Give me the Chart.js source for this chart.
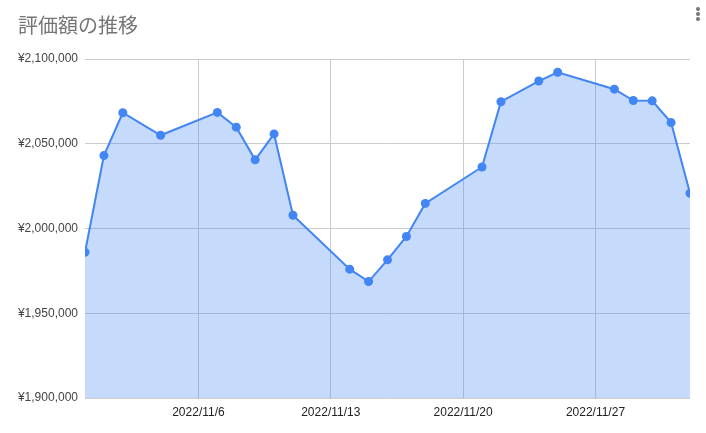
<!DOCTYPE html>
<html>
<head>
<meta charset="utf-8">
<script src="https://cdn.jsdelivr.net/npm/chart.js@4"></script>
<style>
  html, body { margin: 0; padding: 0; background: #fff; }
  #wrap { position: relative; width: 706px; height: 433px; }
  .dot { position: absolute; left: 696px; width: 4px; height: 4px; border-radius: 2px; background: #757575; }
</style>
</head>
<body>
<div id="wrap">
  <canvas id="c" width="706" height="433"></canvas>
  <span class="dot" style="top:7px"></span>
  <span class="dot" style="top:12px"></span>
  <span class="dot" style="top:17px"></span>
</div>
<script>
const dates = [
  '2022/10/31', '2022/11/1', '2022/11/2', '2022/11/4',
  '2022/11/7', '2022/11/8', '2022/11/9', '2022/11/10', '2022/11/11',
  '2022/11/14', '2022/11/15', '2022/11/16', '2022/11/17', '2022/11/18',
  '2022/11/21', '2022/11/22', '2022/11/24', '2022/11/25',
  '2022/11/28', '2022/11/29', '2022/11/30', '2022/12/1', '2022/12/2'
];
const values = [
  1986000, 2043000, 2068300, 2055000,
  2068500, 2059800, 2040500, 2055800, 2007800,
  1976000, 1968700, 1981500, 1995300, 2014800,
  2036300, 2074800, 2087000, 2092200,
  2082200, 2075500, 2075300, 2062500, 2020800
];
const tickLabels = ['2022/11/6', '2022/11/13', '2022/11/20', '2022/11/27'];

const COLORS = {
  line: '#4285F4',
  fill: 'rgba(66, 133, 244, 0.3)',
  grid: '#cccccc'
};

const toDay = (s) => {
  const [y, m, d] = s.split('/').map(Number);
  return Date.UTC(y, m - 1, d) / 86400000;
};
const day0 = toDay(dates[0]);
const dayOf = (s) => toDay(s) - day0;

const ctx = document.getElementById('c');
const myChart = new Chart(ctx, {
  type: 'line',
  data: {
    datasets: [{
      label: '評価額',
      data: dates.map((d, i) => ({ x: dayOf(d), y: values[i] })),
      borderColor: COLORS.line,
      backgroundColor: COLORS.fill,
      borderWidth: 2,
      fill: 'start',
      pointRadius: 4.5,
      pointBackgroundColor: COLORS.line,
      pointBorderWidth: 0,
      tension: 0,
      clip: 0
    }]
  },
  options: {
    responsive: false,
    animation: false,
    layout: { padding: { left: 18, right: 16, top: 0, bottom: 0 } },
    plugins: {
      legend: { display: false },
      tooltip: { enabled: false },
      title: {
        display: true,
        text: '評価額の推移',
        align: 'start',
        color: '#757575',
        font: { family: "Roboto, 'Noto Sans CJK JP', sans-serif", size: 20, weight: 'normal' },
        padding: { top: 16, bottom: 19 }
      }
    },
    scales: {
      x: {
        type: 'linear',
        min: 0,
        max: dayOf(dates[dates.length - 1]),
        afterBuildTicks: (scale) => {
          scale.ticks = tickLabels.map((t) => ({ value: dayOf(t) }));
        },
        afterFit: (scale) => { scale.height = 35; },
        grid: { color: COLORS.grid, drawTicks: false },
        border: { display: false },
        ticks: {
          color: '#222',
          padding: 7,
          maxRotation: 0,
          font: { family: "'Liberation Sans', Arial, sans-serif", size: 12 },
          callback: (v) => tickLabels.find((t) => dayOf(t) === v) || ''
        }
      },
      y: {
        min: 1900000,
        max: 2100000,
        afterFit: (scale) => { scale.width = 67; },
        grid: { color: COLORS.grid, drawTicks: false },
        border: { display: false },
        ticks: {
          stepSize: 50000,
          color: '#444',
          padding: 7,
          font: { family: "'Liberation Sans', Arial, sans-serif", size: 12 },
          callback: (v) => '¥' + v.toLocaleString('en-US')
        }
      }
    }
  }
});
</script>
</body>
</html>
